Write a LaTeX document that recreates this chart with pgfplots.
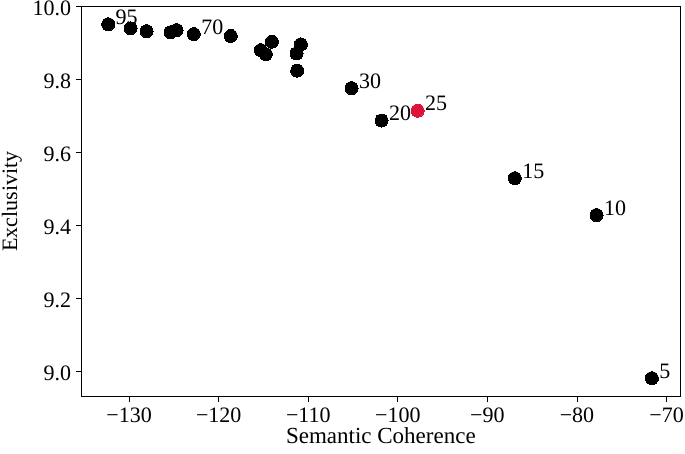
\documentclass[border=0pt]{standalone}
\usepackage{pgfplots}
\pgfplotsset{compat=1.18}
\usepackage{fontspec}
\setmainfont{Liberation Serif}
\definecolor{crimson}{RGB}{220,20,60}
\pgfplotstableread{
x y lab
-132.34 9.952 95
-129.84 9.941 {}
-128.06 9.933 {}
-125.38 9.930 {}
-124.71 9.936 {}
-122.78 9.925 70
-118.65 9.920 {}
-115.30 9.881 {}
-114.74 9.870 {}
-114.07 9.904 {}
-111.31 9.872 {}
-110.83 9.897 {}
-111.24 9.825 {}
-105.17 9.777 30
-101.82 9.688 20
-86.94 9.530 15
-77.82 9.429 10
-71.64 8.982 5
}\blackpts
\pgfplotstableread{
x y lab
-97.80 9.715 25
}\redpts
\begin{document}
\begin{tikzpicture}[x=1pt,y=1pt]
\begin{axis}[
  scale only axis,
  width=598.3pt, height=389.3pt,
  xmin=-135.3, xmax=-68.5,
  ymin=8.933, ymax=10.0,
  xtick={-130,-120,-110,-100,-90,-80,-70},
  xticklabels={−130,−120,−110,−100,−90,−80,−70},
  ytick={9.0,9.2,9.4,9.6,9.8,10.0},
  yticklabels={9.0,9.2,9.4,9.6,9.8,10.0},
  tick align=outside,
  major tick length=6pt,
  tick style={black, line width=1pt},
  axis line style={black, line width=1pt},
  xtick pos=bottom, ytick pos=left,
  font=\fontsize{22}{26}\selectfont,
  ticklabel style={font=\fontsize{22}{26}\selectfont},
  xlabel={Semantic Coherence},
  ylabel={Exclusivity},
  xlabel style={font=\fontsize{23}{27}\selectfont, yshift=2pt},
  ylabel style={font=\fontsize{22}{26}\selectfont, yshift=4pt},
  xticklabel style={yshift=-2pt},
  yticklabel style={xshift=-1pt, yshift=-2pt},
  clip=false,
  nodes near coords,
  point meta=explicit symbolic,
  nodes near coords style={anchor=base west, inner sep=0pt, xshift=7.5pt, yshift=0pt, font=\fontsize{22}{26}\selectfont, text=black},
]
\addplot[only marks, mark=*, mark size=6.5pt, mark options={fill=black, draw=black, line width=0pt}] table[x=x, y=y, meta=lab] {\blackpts};
\addplot[only marks, mark=*, mark size=6.5pt, mark options={fill=crimson, draw=crimson, line width=0pt}] table[x=x, y=y, meta=lab] {\redpts};
\end{axis}
\pgfresetboundingbox
\path (current axis.south west) ++(-81.7pt,-57pt) coordinate (bbA);
\path (current axis.north east) ++(5pt,6.7pt) coordinate (bbB);
\useasboundingbox (bbA) rectangle (bbB);
\end{tikzpicture}
\end{document}
